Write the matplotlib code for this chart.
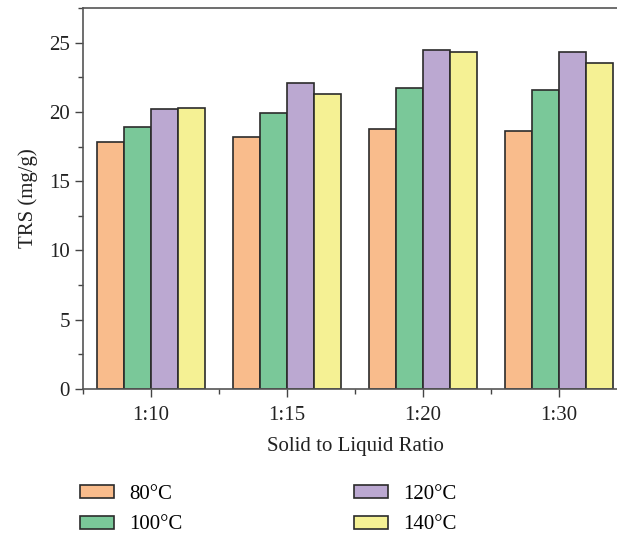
import matplotlib.pyplot as plt
import numpy as np
from matplotlib.ticker import MultipleLocator, FixedLocator

# Data
ratios = ['1:10', '1:15', '1:20', '1:30']
temps = ['80°C', '100°C', '120°C', '140°C']
trs_80 = [17.8, 18.2, 18.8, 18.6]
trs_100 = [18.9, 19.9, 21.7, 21.6]
trs_120 = [20.2, 22.1, 24.5, 24.3]
trs_140 = [20.3, 21.3, 24.3, 23.5]
colors = ['#F9BC8C', '#7AC899', '#BBA8D1', '#F5F194']

plt.rcParams['font.family'] = ['Liberation Serif', 'DejaVu Serif']
plt.rcParams['font.size'] = 15

fig = plt.figure(figsize=(6.17, 5.35), dpi=100)
# right edge of the axes runs off the figure, as in the reference
ax = fig.add_axes([83 / 617, 1 - 389 / 535, 544 / 617, 381 / 535])

x = np.arange(len(ratios))
width = 0.2
series = [trs_80, trs_100, trs_120, trs_140]
for i, (vals, lab, c) in enumerate(zip(series, temps, colors)):
    ax.bar(x + (i - 1.5) * width, vals, width, color=c, edgecolor='#2b2b2b',
           linewidth=1.2, label=lab)

ax.set_xlim(-0.5, 3.5)
ax.set_ylim(0, 27.5)
ax.set_xticks(x)
ax.set_xticklabels(ratios)
ax.xaxis.set_minor_locator(FixedLocator([-0.5, 0.5, 1.5, 2.5, 3.5]))
ax.yaxis.set_major_locator(MultipleLocator(5))
ax.yaxis.set_minor_locator(MultipleLocator(2.5))
ax.tick_params(which='major', direction='out', length=6, width=1, color='#444444')
ax.tick_params(which='minor', direction='out', length=3.5, width=1, color='#444444')
ax.tick_params(axis='x', pad=6)
ax.tick_params(axis='both', labelsize=15, labelcolor='#222222')
for s in ax.spines.values():
    s.set_color('#555555')
    s.set_linewidth(1.2)
ax.spines['right'].set_visible(False)

ax.set_xlabel('Solid to Liquid Ratio', fontsize=15, color='#222222', labelpad=9)
ax.set_ylabel('TRS (mg/g)', fontsize=15, color='#222222', labelpad=8)

handles, labels = ax.get_legend_handles_labels()
fig.legend(handles, labels, ncol=2,
           loc='upper left', bbox_to_anchor=(80 / 617, 1 - 485 / 535),
           frameon=False, fontsize=15, handlelength=1.65, handleheight=0.58,
           handletextpad=0.7, columnspacing=8.25, labelspacing=0.55,
           borderaxespad=0, borderpad=0)

fig.savefig('out.png', dpi=100)
